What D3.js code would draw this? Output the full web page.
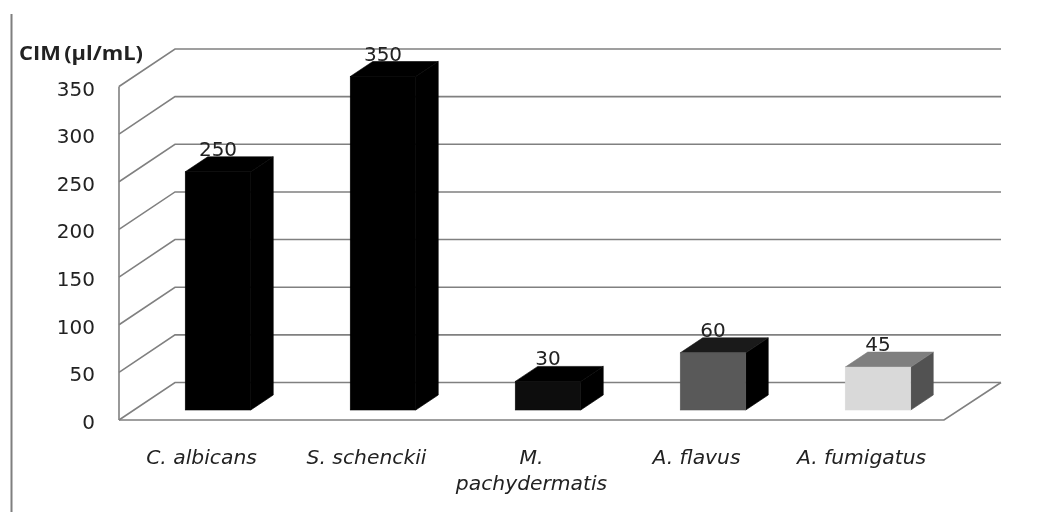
<!DOCTYPE html>
<html><head><meta charset="utf-8">
<script src="https://cdnjs.cloudflare.com/ajax/libs/d3/7.8.5/d3.min.js"></script>
<style>html,body{margin:0;padding:0;background:#fff;overflow:hidden}svg{display:block;filter:blur(.4px)}text{font-family:"DejaVu Sans",sans-serif;fill:#222}</style>
</head><body><svg id="c" width="1040" height="512"></svg>
<script>
const categories=[["C. albicans"],["S. schenckii"],["M.","pachydermatis"],["A. flavus"],["A. fumigatus"]];
const values=[250,350,30,60,45];
const frontColors=["#000000","#000000","#0d0d0d","#595959","#d9d9d9"];
const topColors=["#000000","#000000","#000000","#1a1a1a","#7f7f7f"];
const sideColors=["#000000","#000000","#000000","#000000","#525252"];
const yTicks=[0,50,100,150,200,250,300,350];
const yTitle="CIM (µl/mL)";

const svg=d3.select("#c");
const y=d3.scaleLinear().domain([0,350]).range([420,86.5]);
const x=d3.scaleBand().domain(d3.range(categories.length)).range([119,944]);
const bar=d3.scaleBand().domain(d3.range(categories.length)).range([135.5,960.5]).paddingInner(.603).paddingOuter(.3015);
const wallDx=56,wallDy=37.5,barDx=22.5,barDy=15,barBase=10;
const gridColor="#808080";

svg.append("line").attr("x1",11.5).attr("x2",11.5).attr("y1",14).attr("y2",512).attr("stroke","#7f7f7f").attr("stroke-width",2);

const grid=svg.append("g").attr("fill","none").attr("stroke",gridColor).attr("stroke-width",1.6);
grid.selectAll("path").data(yTicks).join("path")
 .attr("d",d=>d3.line()([[119,y(d)],[119+wallDx,y(d)-wallDy],[1001,y(d)-wallDy]]));
grid.append("path").attr("d",d3.line()([[119,y(0)],[119,y(350)]]));
grid.append("path").attr("d",d3.line()([[119,y(0)],[944,y(0)],[1001,y(0)-wallDy]]));

const g=svg.selectAll("g.bar").data(values).join("g").attr("class","bar");
const h=d=>y(0)-y(d);
const bottom=y(0)-barBase;
g.append("path").attr("fill",(d,i)=>sideColors[i]).attr("stroke",(d,i)=>sideColors[i]).attr("stroke-width",.6).attr("d",(d,i)=>{
 const r=bar(i)+bar.bandwidth();
 return d3.line()([[r,bottom],[r+barDx,bottom-barDy],[r+barDx,bottom-h(d)-barDy],[r,bottom-h(d)]])+"Z";});
g.append("path").attr("fill",(d,i)=>topColors[i]).attr("stroke",(d,i)=>topColors[i]).attr("stroke-width",.6).attr("d",(d,i)=>{
 const l=bar(i),r=l+bar.bandwidth(),t=bottom-h(d);
 return d3.line()([[l,t],[r,t],[r+barDx,t-barDy],[l+barDx,t-barDy]])+"Z";});
g.append("rect").attr("fill",(d,i)=>frontColors[i]).attr("stroke",(d,i)=>frontColors[i]).attr("stroke-width",.6)
 .attr("x",(d,i)=>bar(i)).attr("width",bar.bandwidth())
 .attr("y",d=>bottom-h(d)).attr("height",d=>h(d));
g.append("text").attr("text-anchor","middle").attr("font-size",20)
 .attr("x",(d,i)=>bar(i)+bar.bandwidth()/2).attr("y",d=>bottom-h(d)-16).text(d=>d);

svg.append("g").selectAll("text").data(yTicks).join("text")
 .attr("text-anchor","end").attr("font-size",20).attr("x",95).attr("y",d=>y(d)+9).text(d=>d);

svg.append("text").attr("x",19).attr("y",60).attr("font-size",19).attr("font-weight","bold").attr("word-spacing",-2).attr("fill","#111").style("font-family","'Open Sans',sans-serif").attr("textLength",124).attr("lengthAdjust","spacingAndGlyphs").text(yTitle);

const cat=svg.append("g").selectAll("text").data(categories).join("text")
 .attr("text-anchor","middle").attr("font-size",20.3).attr("font-style","italic");
cat.each(function(lines,i){
 d3.select(this).selectAll("tspan").data(lines).join("tspan")
  .attr("x",x(i)+x.bandwidth()/2).attr("y",(l,k)=>464+k*26).text(l=>l);
});
</script></body></html>
